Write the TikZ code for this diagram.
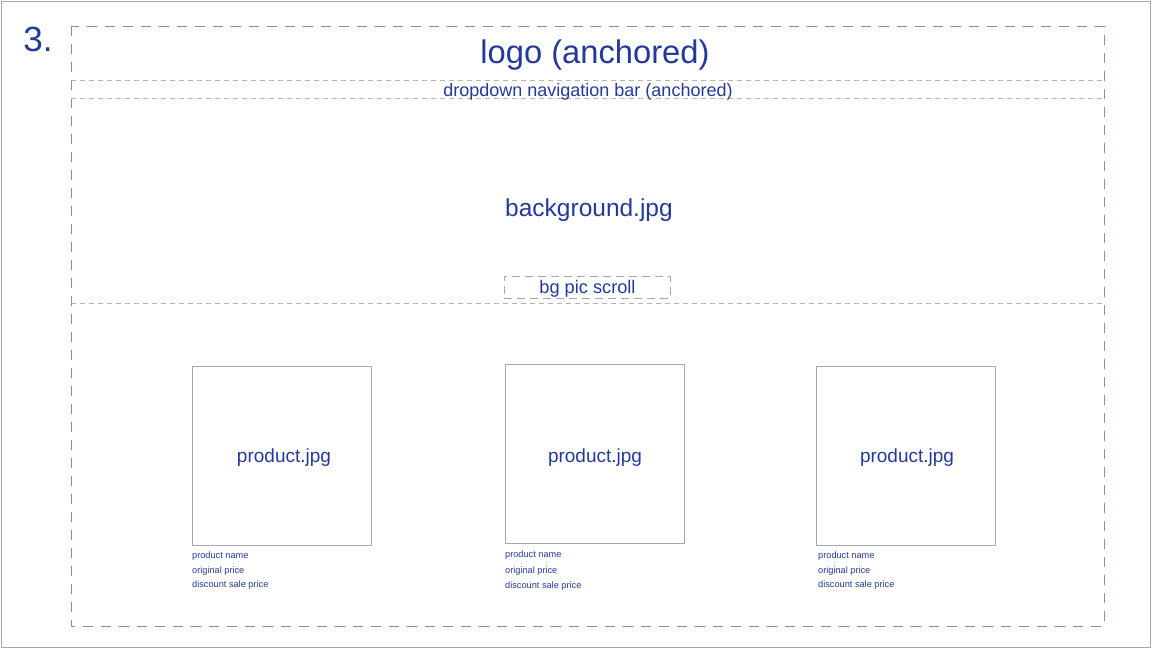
\documentclass[tikz,border=0pt]{standalone}
\usepackage{fontspec}
\setmainfont{Liberation Sans}
\definecolor{txt}{HTML}{24399A}
\definecolor{bluedash}{HTML}{7A8FC8}
\definecolor{graydash}{HTML}{B4B4B4}
\definecolor{boxgray}{HTML}{A8A8A8}
\begin{document}
\begin{tikzpicture}[x=1pt,y=-1pt,
  lbl/.style={text=txt,inner sep=0pt,anchor=center},
  outer/.style={draw=bluedash,line width=1pt,dash pattern=on 10pt off 8pt},
  sep/.style={draw=graydash,line width=1pt,dash pattern=on 5pt off 4pt},
  prod/.style={draw=boxgray,line width=1pt,minimum width=179pt,minimum height=179pt,inner sep=0pt},
  captxt/.style={text=txt,inner sep=0pt,anchor=west,font=\fontsize{9.2}{10}\selectfont}]
\useasboundingbox (0,0) rectangle (1152,649);
\draw[draw=boxgray,line width=1pt] (1,1) rectangle (1150,647);
\node[lbl,font=\fontsize{35}{37}\selectfont] (num) at (38,39) {3.};
\draw[outer] (71,26) rectangle (1104,626);
\coordinate (l1a) at (71,80); \coordinate (l1b) at (1104,80);
\coordinate (l2a) at (71,98); \coordinate (l2b) at (1104,98);
\coordinate (l3a) at (71,303); \coordinate (l3b) at (1104,303);
\draw[sep] (l1a) -- (l1b);
\draw[sep] (l2a) -- (l2b);
\draw[sep] (l3a) -- (l3b);
\node[lbl,font=\fontsize{32.7}{35}\selectfont] (logo) at (595,55) {logo (anchored)};
\node[lbl,font=\fontsize{18}{20}\selectfont] (nav) at (588,92) {dropdown navigation bar (anchored)};
\node[lbl,font=\fontsize{24.5}{27}\selectfont] (bg) at (589,210) {background.jpg};
\node[draw=boxgray,line width=1pt,dash pattern=on 8pt off 5pt,minimum width=166pt,minimum height=22pt,inner sep=0pt] (scroll) at (587,287) {};
\node[lbl,font=\fontsize{18.2}{20}\selectfont] (scrolltxt) at (587.5,289) {bg pic scroll};
\node[prod] (p1) at (281.5,455.5) {};
\node[prod] (p2) at (594.5,453.5) {};
\node[prod] (p3) at (906,455.5) {};
\node[lbl,font=\fontsize{19}{21}\selectfont] (t1) at (284,458) {product.jpg};
\node[lbl,font=\fontsize{19}{21}\selectfont] (t2) at (595,458) {product.jpg};
\node[lbl,font=\fontsize{19}{21}\selectfont] (t3) at (907,458) {product.jpg};
\foreach \n/\x/\ya/\yb/\yc in {1/192/556.5/571.5/585.5, 2/505/555.5/571.5/586.5, 3/818/556.5/571.5/585.5}{
  \node[captxt] (n\n) at (\x,\ya) {product name};
  \node[captxt] (o\n) at (\x,\yb) {original price};
  \node[captxt] (d\n) at (\x,\yc) {discount sale price};
}
\end{tikzpicture}
\end{document}
